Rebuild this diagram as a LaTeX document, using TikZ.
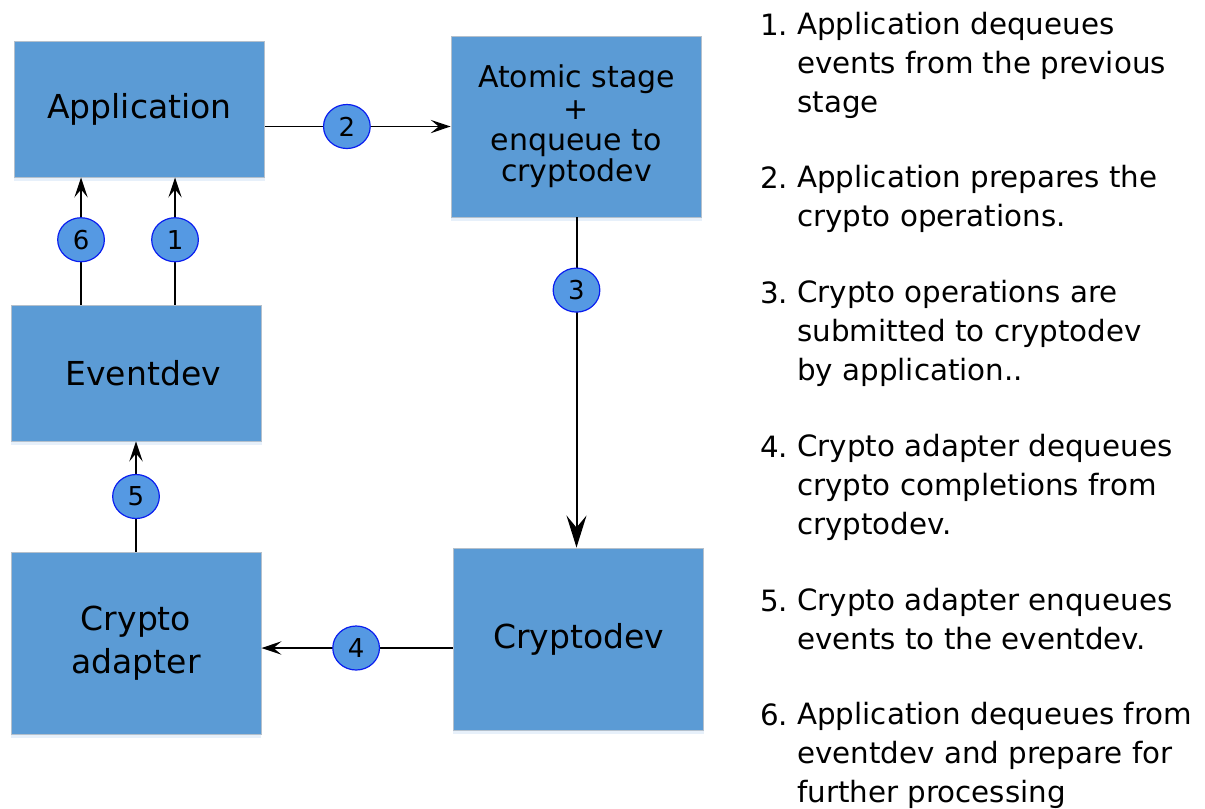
\documentclass[tikz,border=0pt]{standalone}
\usepackage{fontspec}
\setmainfont{DejaVu Sans}
\usepackage{tikz}
\usetikzlibrary{positioning,arrows.meta,shapes.geometric,shadows,calc}
\definecolor{evBox}{HTML}{5B9BD5}
\definecolor{evBoxEdge}{HTML}{B4C0CC}
\definecolor{evStep}{HTML}{5599E3}
\definecolor{evStepEdge}{HTML}{0A1EF0}
\definecolor{evGlow}{HTML}{B9D4F0}
\tikzset{
  ev-box/.style={
    draw=evBoxEdge, line width=0.7pt, fill=evBox,
    drop shadow={shadow xshift=0pt, shadow yshift=-3pt, fill=evGlow, opacity=0.35},
    font=\fontsize{24.75}{30}\selectfont, align=center,
    minimum width=188pt, inner sep=0pt
  },
  ev-num/.style={
    ellipse, draw=evStepEdge, line width=0.9pt, fill=evStep,
    minimum width=35pt, minimum height=33pt, inner sep=0pt,
    font=\fontsize{19.5}{21}\selectfont
  },
  ev-flow/.style={-{Stealth[length=15pt, width=10pt, inset=6pt]}, line width=1.1pt},
  ev-flow-big/.style={-{Stealth[length=24pt, width=15pt, inset=9pt]}, line width=1.5pt},
  ev-note/.style={font=\fontsize{22}{28.9}\selectfont, align=left, inner sep=0pt}
}
\begin{document}
\begin{tikzpicture}[x=0.75pt, y=-0.75pt]
\useasboundingbox (0,0) rectangle (1205,808);

% blocks
\node[ev-box, minimum height=102pt] (app) at (139.5,109) {Application};
\node[ev-box, minimum height=135.75pt, font=\fontsize{22.5}{23.5}\selectfont] (atomic) at (576.5,126.5)
  {Atomic stage\\+\\enqueue to\\cryptodev};
\node[ev-box, minimum height=102pt] (eventdev) at (136.5,373) {\hspace*{10pt}Eventdev};
\node[ev-box, minimum width=187.5pt, minimum height=136.5pt,
  font=\fontsize{24.75}{32.25}\selectfont] (adapter) at (136,643) {Crypto\\adapter};
\node[ev-box, minimum height=136.5pt] (cryptodev) at (578.5,639) {Cryptodev};

% numbered flows
\draw[ev-flow] (app.east |- atomic.west) -- node[ev-num, pos=0.44] (n2) {2} (atomic.west);
\draw[ev-flow-big] (atomic.south) -- node[ev-num, pos=0.22] (n3) {3} (atomic.south |- cryptodev.north);
\draw[ev-flow] ([yshift=-6.75pt]cryptodev.west) -- node[ev-num, pos=0.505] (n4) {4}
  ([yshift=-3.75pt]adapter.east);
\draw[ev-flow] (adapter.north) -- node[ev-num, pos=0.5] (n5) {5} (adapter.north |- eventdev.south);
\draw[ev-flow] ([xshift=-41.6pt]eventdev.north) -- node[ev-num, pos=0.51] (n6) {6}
  ([xshift=-41.6pt]eventdev.north |- app.south);
\draw[ev-flow] ([xshift=28.9pt]eventdev.north) -- node[ev-num, pos=0.51] (n1) {1}
  ([xshift=28.9pt]eventdev.north |- app.south);

% legend (text nodes sit on the baseline of their last line)
\foreach \k/\y in {1/35,2/188,3/303,4/457,5/611,6/725}
  \node[ev-note, anchor=base west] (num\k) at (760,\y) {\k.};
\node[ev-note, anchor=base west] (t1) at (797,112)
  {Application dequeues\\events from the previous\\stage};
\node[ev-note, anchor=base west] (t2) at (797,226.5)
  {Application prepares the\\crypto operations.};
\node[ev-note, anchor=base west] (t3) at (797,380)
  {Crypto operations are\\submitted to cryptodev\\by application..};
\node[ev-note, anchor=base west] (t4) at (797,534)
  {Crypto adapter dequeues\\crypto completions from\\cryptodev.};
\node[ev-note, anchor=base west] (t5) at (797,649.5)
  {Crypto adapter enqueues\\events to the eventdev.};
\node[ev-note, anchor=base west] (t6) at (797,802)
  {Application dequeues from\\eventdev and prepare for\\further processing};
\end{tikzpicture}
\end{document}
